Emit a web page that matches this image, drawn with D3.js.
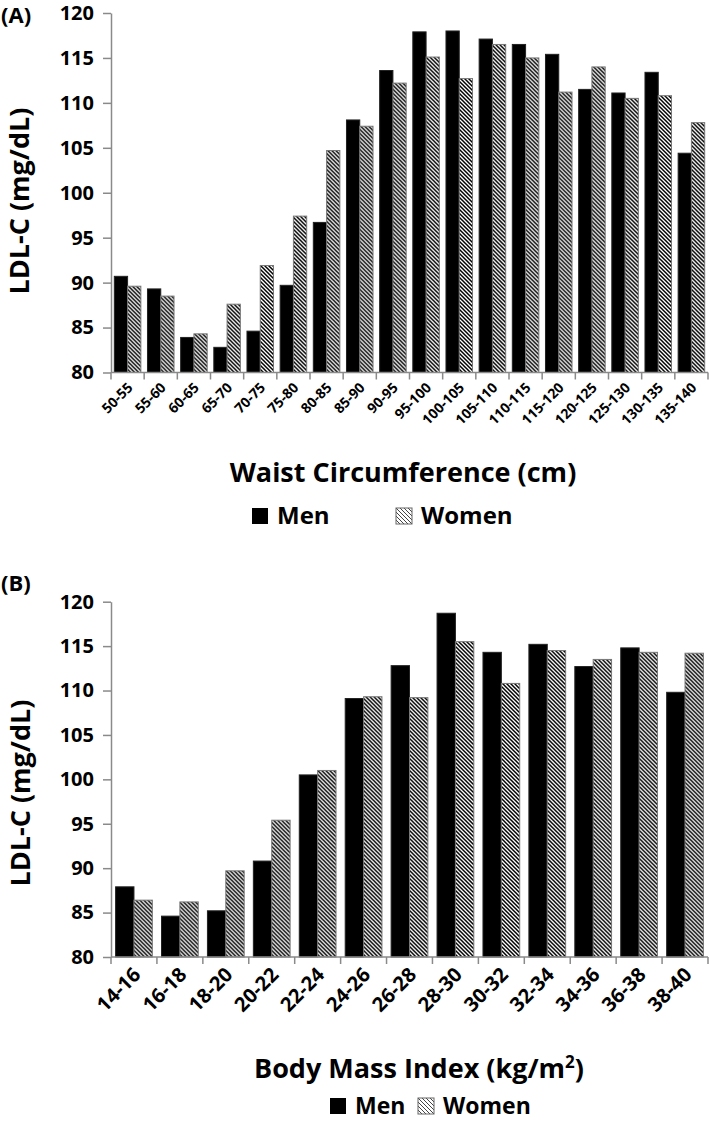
<!DOCTYPE html>
<html>
<head>
<meta charset="utf-8">
<script src="https://cdn.jsdelivr.net/npm/d3@7"></script>
<style>
  html, body { margin: 0; padding: 0; background: #fff; }
  svg { display: block; }
  text { font-family: "Open Sans", "DejaVu Sans", sans-serif; font-weight: bold; fill: #000; }
</style>
</head>
<body>
<svg id="chart" width="709" height="1123"></svg>
<script>
// ---------- Data ----------
const waistCategories = ["50-55","55-60","60-65","65-70","70-75","75-80","80-85","85-90","90-95","95-100","100-105","105-110","110-115","115-120","120-125","125-130","130-135","135-140"];
const waistMen   = [90.7, 89.3, 83.9, 82.8, 84.6, 89.7, 96.7, 108.1, 113.6, 117.9, 118.0, 117.1, 116.5, 115.4, 111.5, 111.1, 113.4, 104.4];
const waistWomen = [89.6, 88.5, 84.3, 87.6, 91.9, 97.4, 104.7, 107.4, 112.2, 115.1, 112.7, 116.5, 115.0, 111.2, 114.0, 110.5, 110.8, 107.8];

const bmiCategories = ["14-16","16-18","18-20","20-22","22-24","24-26","26-28","28-30","30-32","32-34","34-36","36-38","38-40"];
const bmiMen   = [87.9, 84.6, 85.2, 90.8, 100.5, 109.1, 112.8, 118.7, 114.3, 115.2, 112.7, 114.8, 109.8];
const bmiWomen = [86.4, 86.2, 89.7, 95.4, 101.0, 109.3, 109.2, 115.5, 110.8, 114.5, 113.5, 114.3, 114.2];

const yTickValues = [80, 85, 90, 95, 100, 105, 110, 115, 120];
const seriesNames = ["Men", "Women"];

// ---------- Setup ----------
const svg = d3.select("#chart");
const axisColor = "#8a8a8a";

const defs = svg.append("defs");
function hatch(id, size, sw, color) {
  const p = defs.append("pattern")
    .attr("id", id).attr("patternUnits", "userSpaceOnUse")
    .attr("width", size).attr("height", size);
  p.append("rect").attr("width", size).attr("height", size).attr("fill", "#fff");
  p.append("path")
    .attr("d", `M0,0 L${size},${size} M${-size/2},${size/2} L${size/2},${size*1.5} M${size/2},${-size/2} L${size*1.5},${size/2}`)
    .attr("stroke", color).attr("stroke-width", sw).attr("fill", "none");
}
hatch("hatchBar", 4, 1.5, "#000");
hatch("hatchLegend", 4, 1.0, "#444");

function drawPanel(cfg) {
  const g = svg.append("g");
  const x0 = d3.scaleBand().domain(cfg.categories).range([cfg.x0, cfg.x1])
    .paddingInner(0.2).paddingOuter(0.1);
  const x1 = d3.scaleBand().domain(seriesNames).range([0, x0.bandwidth()]);
  const y = d3.scaleLinear().domain([80, 120]).range([cfg.yBottom, cfg.yTop]);

  const rows = cfg.categories.map((c, i) => ({ cat: c, vals: [
    { key: "Men", v: cfg.men[i] }, { key: "Women", v: cfg.women[i] } ] }));

  // bars
  const grp = g.selectAll("g.grp").data(rows).join("g")
    .attr("transform", d => `translate(${x0(d.cat)},0)`);
  grp.selectAll("rect").data(d => d.vals).join("rect")
    .attr("x", d => x1(d.key))
    .attr("y", d => y(d.v))
    .attr("width", x1.bandwidth())
    .attr("height", d => y(80) - y(d.v))
    .attr("fill", d => d.key === "Men" ? "#000" : "url(#hatchBar)")
    .attr("stroke", d => d.key === "Men" ? "#222" : "#777")
    .attr("stroke-width", 1);

  // y axis
  const yAxis = g.append("g").attr("transform", `translate(${cfg.x0},0)`)
    .call(d3.axisLeft(y).tickValues(yTickValues).tickSize(8).tickPadding(9).tickSizeOuter(0));
  yAxis.select(".domain").attr("stroke", axisColor).attr("stroke-width", 1.5);
  yAxis.selectAll(".tick line").attr("stroke", axisColor).attr("stroke-width", 1.5);
  yAxis.selectAll(".tick text").attr("font-size", cfg.yTickSize)
    .attr("font-family", '"Open Sans", sans-serif').attr("font-weight", "bold").attr("fill", "#000");

  // x axis line & boundary ticks
  g.append("line").attr("x1", cfg.x0).attr("x2", cfg.x1)
    .attr("y1", y(80)).attr("y2", y(80))
    .attr("stroke", axisColor).attr("stroke-width", 1.5);
  const step = x0.step();
  const bounds = d3.range(cfg.categories.length + 1).map(i => cfg.x0 + i * step);
  g.selectAll("line.xt").data(bounds).join("line")
    .attr("x1", d => d).attr("x2", d => d)
    .attr("y1", y(80)).attr("y2", y(80) + 7)
    .attr("stroke", axisColor).attr("stroke-width", 1.5);

  // x tick labels (rotated -45°)
  g.selectAll("text.xl").data(cfg.categories).join("text")
    .attr("class", "xl")
    .attr("text-anchor", "end")
    .attr("font-size", cfg.xTickSize)
    .attr("transform", d => `translate(${x0(d) + x0.bandwidth()/2 + cfg.lblDx},${y(80) + cfg.lblDy}) rotate(-45)`)
    .text(d => d);

  // y title
  g.append("text")
    .attr("transform", `translate(${cfg.yTitleX},${cfg.yTitleY}) rotate(-90)`)
    .attr("text-anchor", "middle").attr("font-size", 27)
    .text("LDL-C (mg/dL)");

  // panel label
  g.append("text").attr("x", 1).attr("y", cfg.panelY).attr("font-size", 22).text(cfg.panel);

  // x title
  const xt = g.append("text").attr("x", cfg.xTitleX).attr("y", cfg.xTitleY)
    .attr("text-anchor", "middle").attr("font-size", 27);
  cfg.xTitle(xt);

  // legend
  const lg = g.append("g").attr("transform", `translate(${cfg.legX},${cfg.legY})`);
  lg.append("rect").attr("x", 0).attr("y", -16).attr("width", 16).attr("height", 16).attr("fill", "#000");
  lg.append("text").attr("x", 25).attr("y", 0).attr("font-size", cfg.legFont).text(seriesNames[0]);
  lg.append("rect").attr("x", cfg.legGap).attr("y", -16).attr("width", 16).attr("height", 16)
    .attr("fill", "url(#hatchLegend)").attr("stroke", "#666").attr("stroke-width", 1);
  lg.append("text").attr("x", cfg.legGap + 25).attr("y", 0).attr("font-size", cfg.legFont).text(seriesNames[1]);
}

drawPanel({
  panel: "(A)", panelY: 23,
  categories: waistCategories, men: waistMen, women: waistWomen,
  x0: 111, x1: 708, yTop: 13, yBottom: 372.5,
  yTickSize: 20, xTickSize: 14, lblDx: 6, lblDy: 16,
  yTitleX: 29, yTitleY: 201,
  xTitleX: 403, xTitleY: 482,
  xTitle: t => t.text("Waist Circumference (cm)"),
  legX: 252, legY: 524, legGap: 144, legFont: 24
});

drawPanel({
  panel: "(B)", panelY: 591,
  categories: bmiCategories, men: bmiMen, women: bmiWomen,
  x0: 111, x1: 708, yTop: 601.7, yBottom: 957,
  yTickSize: 20, xTickSize: 20, lblDx: 8, lblDy: 19,
  yTitleX: 30, yTitleY: 793,
  xTitleX: 419, xTitleY: 1078,
  xTitle: t => { t.text("Body Mass Index (kg/m"); t.append("tspan").attr("font-size", 17).attr("dy", -10).text("2"); t.append("tspan").attr("dy", 10).text(")"); },
  legX: 330, legY: 1114, legGap: 88, legFont: 23
});
</script>
</body>
</html>
